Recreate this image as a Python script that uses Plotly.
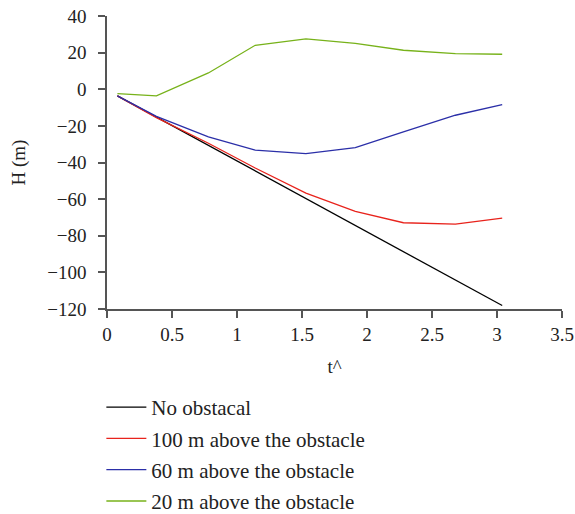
import plotly.graph_objects as go

t = [0.08, 0.38, 0.78, 1.14, 1.53, 1.91, 2.28, 2.68, 3.04]
no_obstacle = [-3.6, -15.2, -30.7, -44.6, -59.7, -74.4, -88.7, -104.2, -118.1]
above_100 = [-3.6, -15.5, -29.5, -43.0, -56.7, -66.7, -72.9, -73.6, -70.4]
above_60 = [-3.6, -14.8, -26.0, -33.2, -35.2, -31.9, -23.3, -14.2, -8.4]
above_20 = [-2.4, -3.6, 8.9, 24.0, 27.5, 25.0, 21.3, 19.5, 19.1]

names = ["No obstacal", "100 m above the obstacle", "60 m above the obstacle", "20 m above the obstacle"]
colors = ["#000000", "#e8231c", "#2b2fa8", "#77b21a"]
series = [no_obstacle, above_100, above_60, above_20]

fig = go.Figure()
for i, (n, c, s) in enumerate(zip(names, colors, series)):
    fig.add_trace(go.Scatter(x=t, y=s, mode="lines", name=n, legendgroup=f"g{i}",
                             line=dict(color=c, width=1.3)))

font = "Liberation Serif"
axis_common = dict(showgrid=False, zeroline=False, showline=True, linecolor="#555555", linewidth=1.5,
                   ticks="outside", ticklen=7, tickcolor="#555555", tickwidth=1.5,
                   ticklabeloverflow="allow",
                   tickfont=dict(family=font, size=19, color="#222222"))
fig.update_layout(
    width=575, height=514,
    margin=dict(l=107, r=13, t=16, b=205, autoexpand=False),
    plot_bgcolor="white", paper_bgcolor="white",
    font=dict(family=font, size=19, color="#222222"),
    xaxis=dict(range=[0, 3.5], dtick=0.5, automargin=False,
               title=dict(text="t^", standoff=16, font=dict(family=font, size=19)), **axis_common),
    yaxis=dict(range=[-120, 40], dtick=20, automargin=False, ticklabelstandoff=8,
               title=dict(text="H (m)", standoff=17, font=dict(family=font, size=19)), **axis_common),
    legend=dict(orientation="v", x=-0.0124, xanchor="left", y=-0.266, yanchor="top",
                font=dict(family=font, size=21, color="#222222"),
                traceorder="grouped", tracegroupgap=1, itemwidth=40),
)
fig.write_html("out.html", config={"displayModeBar": False},
               post_script="document.body.style.margin='0';")
